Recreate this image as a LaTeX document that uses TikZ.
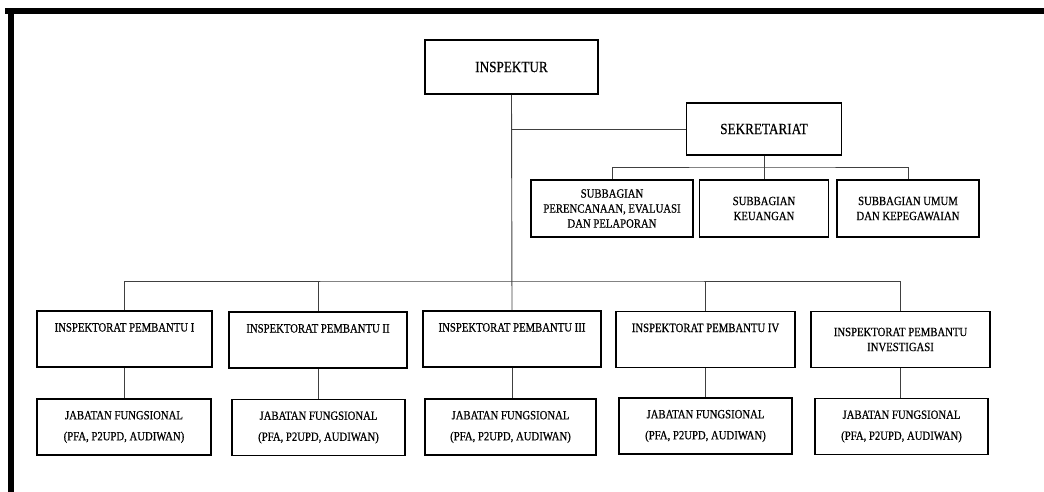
\documentclass[tikz,border=0pt]{standalone}
\usepackage{fontspec}
\setmainfont[FakeStretch=0.85,FakeBold=0.6]{Liberation Serif}
\usetikzlibrary{positioning}

\tikzset{
  unit/.style={draw, line width=1.7pt, align=center, inner sep=2pt,
    font=\fontsize{12.6}{15}\selectfont},
  head/.style={unit, font=\fontsize{15.5}{18}\selectfont},
  ipbox/.style={unit, minimum width=178pt, minimum height=56pt},
  jfbox/.style={unit, minimum width=173pt, minimum height=56pt,
    font=\fontsize{12.6}{21}\selectfont},
  subbox/.style={unit, minimum height=57pt},
  oneline/.style={text height=8pt, text depth=23pt},
  link/.style={line width=0.9pt, black!75},
}

\begin{document}
\begin{tikzpicture}[x=1pt,y=-1pt]
  \useasboundingbox (0,0) rectangle (1044,492);
  % page frame
  \fill (5,8) rectangle (1044,14);
  \fill (8,8) rectangle (14,492);

  % top level
  \node[head, minimum width=173pt, minimum height=54pt] (insp) at (511.5,67) {INSPEKTUR};
  \node[head, minimum width=155pt, minimum height=52pt] (sekr) at (764,129) {SEKRETARIAT};

  % subbagian
  \node[subbox, minimum width=162pt] (sub1) at (612,208.5) {SUBBAGIAN\\PERENCANAAN, EVALUASI\\DAN PELAPORAN};
  \node[subbox, minimum width=129pt] (sub2) at (764,208.5) {SUBBAGIAN\\KEUANGAN};
  \node[subbox, minimum width=142pt] (sub3) at (908,208.5) {SUBBAGIAN UMUM\\DAN KEPEGAWAIAN};

  % inspektorat pembantu
  \node[ipbox, oneline, minimum width=175pt] (ip1) at (124.5,339) {INSPEKTORAT PEMBANTU I};
  \node[ipbox, oneline] (ip2) at (318,340) {INSPEKTORAT PEMBANTU II};
  \node[ipbox, oneline] (ip3) at (512,339) {INSPEKTORAT PEMBANTU III};
  \node[ipbox, oneline, minimum width=179pt] (ip4) at (705.5,339.5) {INSPEKTORAT PEMBANTU IV};
  \node[ipbox, minimum width=179pt] (ip5) at (900.5,339.5) {INSPEKTORAT PEMBANTU\\INVESTIGASI};

  % jabatan fungsional
  \node[jfbox, minimum width=174pt] (jf1) at (124,427) {JABATAN FUNGSIONAL\\(PFA, P2UPD, AUDIWAN)};
  \node[jfbox] (jf2) at (318.5,427.5) {JABATAN FUNGSIONAL\\(PFA, P2UPD, AUDIWAN)};
  \node[jfbox, minimum width=171pt] (jf3) at (510.5,427) {JABATAN FUNGSIONAL\\(PFA, P2UPD, AUDIWAN)};
  \node[jfbox] (jf4) at (705.5,426) {JABATAN FUNGSIONAL\\(PFA, P2UPD, AUDIWAN)};
  \node[jfbox] (jf5) at (901.5,426.5) {JABATAN FUNGSIONAL\\(PFA, P2UPD, AUDIWAN)};

  % connectors
  \coordinate (bar) at (512,281);
  \coordinate (sbar) at (764,167);
  \draw[link] (insp.south) -- (ip3.north);
  \draw[link] (sekr.west) -- (sekr.west -| insp.south);
  \draw[link] (sekr.south) -- (sub2.north);
  \draw[link] (sub1.north) |- (sbar) -| (sub3.north);
  \draw[link] (ip1.north) |- (bar) -| (ip5.north);
  \foreach \i in {2,4}
    \draw[link] (ip\i.north) -- (ip\i.north |- bar);
  \foreach \i in {1,...,5}
    \draw[link] (ip\i.south) -- (ip\i.south |- jf\i.north);
\end{tikzpicture}
\end{document}
